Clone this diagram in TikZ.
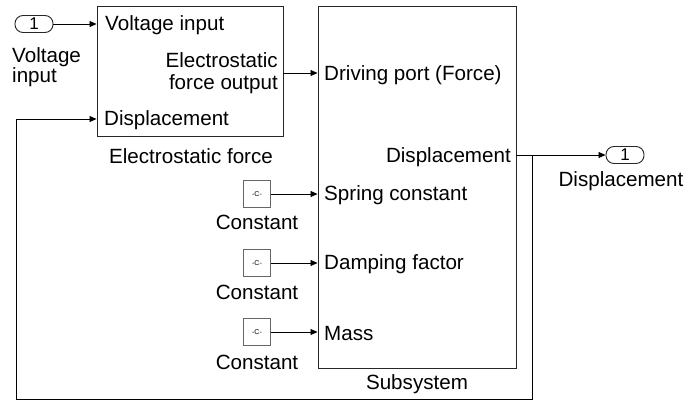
\documentclass[tikz,border=0pt]{standalone}
\usepackage{fontspec}
\setmainfont{Liberation Sans}
\usetikzlibrary{arrows.meta}
\begin{document}
\begin{tikzpicture}[x=1pt,y=-1pt,
  lbl/.style={inner sep=0pt,font=\fontsize{20.6}{23}\selectfont},
  blk/.style={draw=black!85,line width=0.9pt,inner sep=0pt},
  port/.style={draw=black!85,line width=0.9pt,rounded corners=8pt,minimum width=38pt,minimum height=17pt,inner sep=0pt,font=\fontsize{17}{17}\selectfont},
  cst/.style={draw=black!60,line width=0.7pt,minimum width=27pt,minimum height=27pt,inner sep=0pt,font=\fontsize{7}{7}\selectfont},
  wire/.style={line width=0.8pt,-{Triangle[length=7pt,width=6pt]}},
  line/.style={line width=0.8pt}]
\useasboundingbox (0,0) rectangle (686,404);
% inport
\node[port] (in1) at (34,24) {1};
\node[lbl,anchor=north west,align=left,font=\fontsize{20.6}{20}\selectfont] (in1l) at (12,47) {Voltage\\input};
% electrostatic force block
\node[blk,minimum width=186pt,minimum height=130pt] (ef) at (190,71) {};
\node[lbl,anchor=west] (efv) at (105,25) {Voltage input};
\node[lbl,anchor=east,align=right,font=\fontsize{20.6}{22}\selectfont] (efo) at (278,73) {Electrostatic\\force output};
\node[lbl,anchor=west] (efd) at (104,120) {Displacement};
\node[lbl] (efl) at (191,156) {Electrostatic force};
% subsystem
\node[blk,minimum width=198pt,minimum height=362pt] (sub) at (417,187) {};
\node[lbl,anchor=west] (sdp) at (324,75) {Driving port (Force)};
\node[lbl,anchor=east] (sdo) at (511,157) {Displacement};
\node[lbl,anchor=west] (ssc) at (324,195) {Spring constant};
\node[lbl,anchor=west] (sdf) at (324,264) {Damping factor};
\node[lbl,anchor=west] (sm) at (324,334) {Mass};
\node[lbl] (subl) at (417,384) {Subsystem};
% constants
\node[cst] (c1) at (257,194) {-C-};
\node[cst] (c2) at (257,263) {-C-};
\node[cst] (c3) at (257,332) {-C-};
\node[lbl] (c1l) at (257,222) {Constant};
\node[lbl] (c2l) at (257,292) {Constant};
\node[lbl] (c3l) at (257,362) {Constant};
% outport
\node[port] (out1) at (625,155) {1};
\node[lbl] (out1l) at (621,181) {Displacement};
% coordinates
\coordinate (br) at (532,155);
\coordinate (fb1) at (532,399);
\coordinate (fb2) at (16,399);
\coordinate (fb3) at (16,119);
% wires
\draw[wire] (in1.east) -- (ef.west |- in1.east);
\draw[wire] (ef.east |- 0,73) -- (sub.west |- 0,73);
\draw[wire] (sub.east |- br) -- (out1.west);
\draw[line] (br) -- (fb1) -- (fb2) -- (fb3);
\draw[wire] (fb3) -- (ef.west |- fb3);
\draw[wire] (c1.east) -- (sub.west |- c1.east);
\draw[wire] (c2.east) -- (sub.west |- c2.east);
\draw[wire] (c3.east) -- (sub.west |- c3.east);
\end{tikzpicture}
\end{document}
